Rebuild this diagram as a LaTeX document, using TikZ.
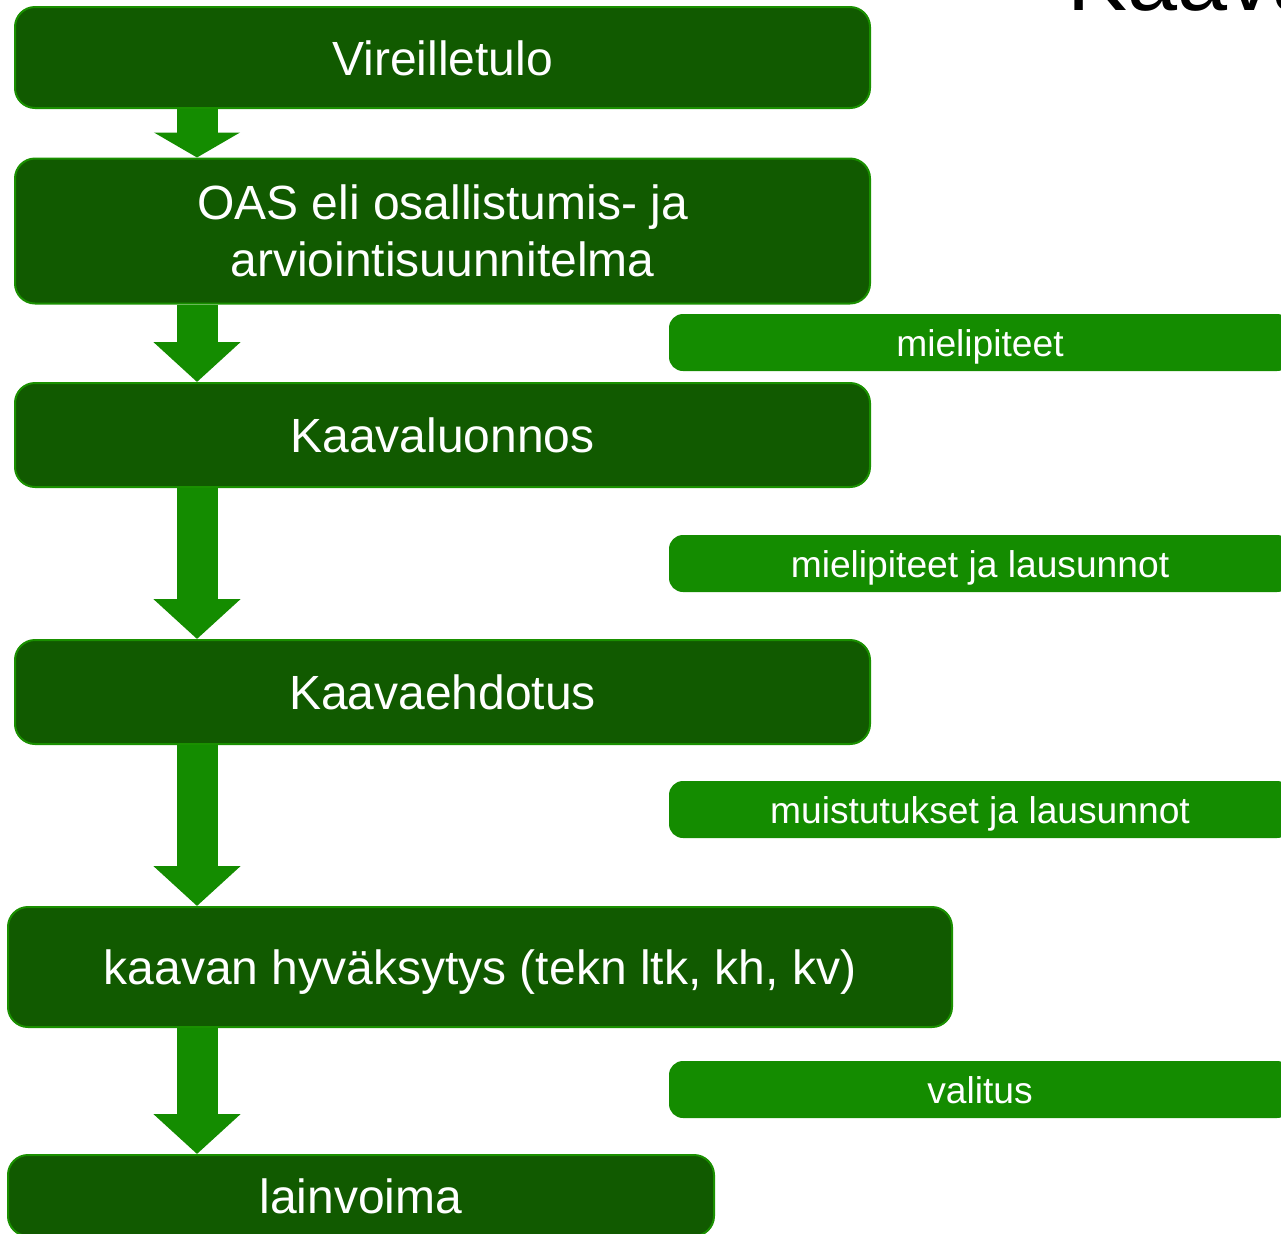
\documentclass[tikz,border=0pt]{standalone}
\usepackage{fontspec}
\setmainfont{Liberation Sans}
\usetikzlibrary{arrows.meta}
\definecolor{stagegreen}{HTML}{115A00}
\definecolor{edgegreen}{HTML}{1A9000}
\definecolor{flowgreen}{HTML}{148C00}

\begin{document}
\begin{tikzpicture}[x=0.5pt,y=-0.5pt,font=\fontsize{24}{28.5}\selectfont]
\tikzstyle{stage}=[draw=edgegreen,line width=1pt,fill=stagegreen,rounded corners=10pt,
  text=white,align=center,inner sep=0pt,minimum width=427.5pt,minimum height=52pt]
\tikzstyle{oneline}=[text height=17.5pt,text depth=0pt]
\tikzstyle{input}=[fill=flowgreen,rounded corners=7pt,text=white,minimum width=311pt,
  minimum height=28.5pt,inner sep=0pt,text height=14pt,text depth=0pt,
  font=\fontsize{18.6}{22}\selectfont]
\tikzstyle{flow}=[flowgreen,line width=20.5pt,-{Triangle[length=20pt,width=42.5pt]}]

\useasboundingbox (0,0) rectangle (1281,1233);
\clip (0,0) rectangle (1281,1233);

\node[anchor=base west,inner sep=0pt,font=\fontsize{45}{54}\selectfont] (title) at (1067,10) {Kaava};

% main chain
\node[stage,oneline,minimum height=50.5pt] (vir) at (442.5,57.5) {Vireilletulo};
\node[stage,minimum height=72.5pt] (oas) at (442.5,231)
  {OAS eli osallistumis- ja\\arviointisuunnitelma};
\node[stage,oneline] (luo) at (442.5,435) {Kaavaluonnos};
\node[stage,oneline] (ehd) at (442.5,692) {Kaavaehdotus};
\node[stage,oneline,minimum width=472pt,minimum height=60pt] (hyv) at (480,967)
  {kaavan hyväksytys (tekn ltk, kh, kv)};
\node[stage,oneline,minimum width=353pt,minimum height=40.5pt] (lai) at (361,1195.5) {lainvoima};

% side inputs
\node[input] (mie) at (980,342.5) {mielipiteet};
\node[input] (mla) at (980,563.5) {mielipiteet ja lausunnot};
\node[input] (mul) at (980,809.5) {muistutukset ja lausunnot};
\node[input] (val) at (980,1089.5) {valitus};

\coordinate (ax) at (197,0);
\draw[flow,-{Triangle[length=12.5pt,width=42.5pt]}] (vir.south -| ax) -- (oas.north -| ax);
\draw[flow] (oas.south -| ax) -- (luo.north -| ax);
\draw[flow] (luo.south -| ax) -- (ehd.north -| ax);
\draw[flow] (ehd.south -| ax) -- (hyv.north -| ax);
\draw[flow] (hyv.south -| ax) -- (lai.north -| ax);
\end{tikzpicture}
\end{document}
